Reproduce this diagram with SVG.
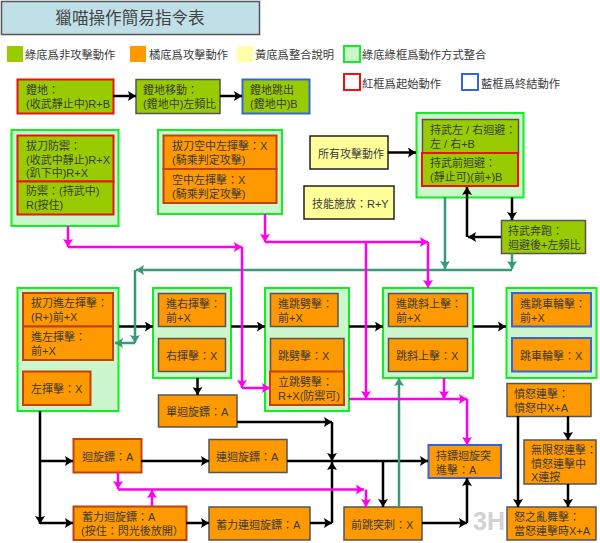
<svg xmlns="http://www.w3.org/2000/svg" width="600" height="543" viewBox="0 0 600 543">
<style>
text{font-family:"Liberation Sans","Noto Sans CJK TC",sans-serif;font-size:11px;fill:#3a3a3a}
.title{font-size:16.6px;text-anchor:middle;fill:#444}
.lg{font-size:11.3px}
.wm{font-size:25px;font-weight:700;fill:#d2d2d2}
.g{fill:#99cc00}.o{fill:#ff9900}.y{fill:#ffff99;stroke:#222;stroke-width:1.5}
.n{stroke:#555;stroke-width:1.5}.r{stroke:#ee1111;stroke-width:2}.b{stroke:#3366dd;stroke-width:2}.br{stroke:#c0430f;stroke-width:2}
.grp{fill:#ccf7cc;stroke:#11ee22;stroke-width:2}
.k,.m,.t{fill:none;stroke-linejoin:miter}
.k{stroke:#000;stroke-width:2.5;marker-end:url(#ak)}
.m{stroke:#ff00ee;stroke-width:2.5;marker-end:url(#am)}
.t{stroke:#379a7c;stroke-width:2.5;marker-end:url(#at)}
</style>
<defs>
<marker id="ak" markerUnits="userSpaceOnUse" markerWidth="9" markerHeight="10" refX="8" refY="5" orient="auto"><path d="M0 0L8 5L0 10L1.5 5Z" fill="#000"/></marker>
<marker id="am" markerUnits="userSpaceOnUse" markerWidth="9" markerHeight="10" refX="8" refY="5" orient="auto"><path d="M0 0L8 5L0 10L1.5 5Z" fill="#ff00ee"/></marker>
<marker id="at" markerUnits="userSpaceOnUse" markerWidth="9" markerHeight="10" refX="8" refY="5" orient="auto"><path d="M0 0L8 5L0 10L1.5 5Z" fill="#379a7c"/></marker>
</defs>
<rect width="600" height="543" fill="#fff"/>
<text class="wm" x="473" y="530">3H</text>
<g id="title"><rect x="1.5" y="1.5" width="258" height="33" fill="#c0e0e8" stroke="#555" stroke-width="1.5"/><text class="title" x="130" y="24">獵喵操作簡易指令表</text></g>
<g id="legend">
<rect x="7" y="46" width="16" height="16" fill="#99cc00"/><text class="lg" x="25" y="59">綠底爲非攻擊動作</text>
<rect x="130" y="46" width="16" height="16" fill="#ff9900"/><text class="lg" x="149" y="59">橘底爲攻擊動作</text>
<rect x="237" y="46" width="16" height="16" fill="#ffffa8"/><text class="lg" x="255" y="59">黃底爲整合說明</text>
<rect x="344" y="46" width="16" height="16" class="grp"/><text class="lg" x="362" y="59">綠底綠框爲動作方式整合</text>
<rect x="344" y="74" width="16" height="16" fill="#fff" stroke="#ee1111" stroke-width="2"/><text class="lg" x="362" y="88">紅框爲起始動作</text>
<rect x="462" y="74" width="16" height="16" fill="#fff" stroke="#3366dd" stroke-width="2"/><text class="lg" x="481" y="88">藍框爲終結動作</text>
</g>
<g id="n-dengdi"><rect x="17.5" y="79.5" width="96" height="34" class="g r"/><text x="26" y="94">鐙地：</text><text x="26" y="108">(收武靜止中)R+B</text></g>
<g id="n-dengdi-move"><rect x="136" y="79.5" width="84" height="34" class="g n"/><text x="143" y="94">鐙地移動：</text><text x="143" y="108">(鐙地中)左頻比</text></g>
<g id="n-dengdi-jump"><rect x="242.5" y="79.5" width="67" height="34" class="g b"/><text x="250" y="94">鐙地跳出</text><text x="250" y="108">(鐙地中)B</text></g>
<g id="g1"><rect x="11.5" y="130" width="107" height="96" class="grp"/>
<rect x="17.5" y="135.5" width="96" height="46" class="g r"/><text x="26" y="150">拔刀防禦：</text><text x="26" y="163.500">(收武中靜止)R+X</text><text x="26" y="176.500">(趴下中)R+X</text>
<rect x="17.5" y="181.500" width="96" height="33" class="g r"/><text x="26" y="195">防禦：(持武中)</text><text x="26" y="209">R(按住)</text></g>
<g id="g2"><rect x="158" y="130" width="124" height="84" class="grp"/>
<rect x="163.500" y="135.500" width="113" height="33.500" class="o br"/><text x="172" y="150">拔刀空中左揮擊：X</text><text x="172" y="164">(騎乘判定攻擊)</text>
<rect x="163.500" y="169" width="113" height="34" class="o br"/><text x="172" y="184">空中左揮擊：X</text><text x="172" y="198">(騎乘判定攻擊)</text></g>
<g id="n-all"><rect x="310" y="136" width="78" height="33" class="y"/><text x="318" y="158">所有攻擊動作</text></g>
<g id="n-skill"><rect x="304" y="186" width="90" height="33" class="y"/><text x="312" y="208">技能施放：R+Y</text></g>
<g id="g3"><rect x="416.500" y="113" width="107" height="84.500" class="grp"/>
<rect x="422.500" y="119.500" width="96" height="34" class="g n"/><text x="430" y="134">持武左 / 右迴避：</text><text x="430" y="147.500">左 / 右+B</text>
<rect x="422" y="153" width="96" height="33" class="g r"/><text x="430" y="167">持武前迴避：</text><text x="430" y="181">(靜止可)(前+)B</text></g>
<g id="n-run"><rect x="501.500" y="220.500" width="84" height="33" class="g n"/><text x="508" y="235">持武奔跑：</text><text x="508" y="249">迴避後+左頻比</text></g>
<g id="g4"><rect x="17.500" y="288" width="101" height="123" class="grp"/>
<rect x="23" y="293" width="90" height="33.500" class="o br"/><text x="31" y="307">拔刀進左揮擊：</text><text x="31" y="321">(R+)前+X</text>
<rect x="23" y="326.500" width="90" height="33.500" class="o br"/><text x="31" y="341">進左揮擊：</text><text x="31" y="355">前+X</text>
<rect x="23" y="371.500" width="67.500" height="33.500" class="o br"/><text x="31" y="393">左揮擊：X</text></g>
<g id="g5"><rect x="153" y="288" width="78" height="90" class="grp"/>
<rect x="158.500" y="293.500" width="67" height="33" class="o n"/><text x="166" y="308">進右揮擊：</text><text x="166" y="322">前+X</text>
<rect x="158.500" y="338.500" width="67" height="33" class="o n"/><text x="166" y="360">右揮擊：X</text></g>
<g id="n-single"><rect x="158.500" y="395" width="78.500" height="32" class="o n"/><text x="166" y="416">單迴旋鏢：A</text></g>
<g id="g6"><rect x="265" y="288" width="84" height="123" class="grp"/>
<rect x="270.500" y="293.500" width="67.500" height="33" class="o n"/><text x="278" y="308">進跳劈擊：</text><text x="278" y="322">前+X</text>
<rect x="270.500" y="338.500" width="73.500" height="34" class="o n"/><text x="278" y="360">跳劈擊：X</text>
<rect x="270" y="371.500" width="74" height="33.500" class="o br"/><text x="278" y="386">立跳劈擊：</text><text x="278" y="400">R+X(防禦可)</text></g>
<g id="g7"><rect x="383" y="288" width="90" height="90" class="grp"/>
<rect x="388.500" y="293.500" width="79" height="33" class="o n"/><text x="396" y="308">進跳斜上擊：</text><text x="396" y="322">前+X</text>
<rect x="388.500" y="338.500" width="79" height="33" class="o n"/><text x="396" y="360">跳斜上擊：X</text></g>
<g id="g8"><rect x="506.500" y="288" width="90" height="90" class="grp"/>
<rect x="512" y="293" width="79" height="33.500" class="o b"/><text x="520" y="308">進跳車輪擊：</text><text x="520" y="322">前+X</text>
<rect x="512" y="338" width="79" height="33.500" class="o b"/><text x="520" y="360">跳車輪擊：X</text></g>
<g id="n-rage"><rect x="507" y="383.500" width="84" height="33" class="o n"/><text x="514" y="398">憤怒連擊：</text><text x="514" y="412">憤怒中X+A</text></g>
<g id="n-inf"><rect x="524" y="440" width="72" height="44" class="o n"/><text x="531" y="454">無限怒連擊：</text><text x="531" y="467.500">憤怒連擊中</text><text x="531" y="481">X連按</text></g>
<g id="n-chaos"><rect x="507" y="507" width="89" height="33" class="o n"/><text x="514" y="521">怒之亂舞擊：</text><text x="514" y="534.500">當怒連擊時X+A</text></g>
<g id="n-hold"><rect x="428.500" y="445" width="72.500" height="33" class="o b"/><text x="436" y="460">持鏢迴旋突</text><text x="436" y="473.500">進擊：A</text></g>
<g id="n-dash"><rect x="344" y="507" width="78" height="33" class="o n"/><text x="351" y="529">前跳突刺：X</text></g>
<g id="n-boom"><rect x="73.500" y="439" width="68" height="33.500" class="o br"/><text x="82" y="461">迴旋鏢：A</text></g>
<g id="n-boom2"><rect x="209" y="439.500" width="78" height="33" class="o n"/><text x="216" y="461">連迴旋鏢：A</text></g>
<g id="n-charge"><rect x="73.500" y="506.500" width="113" height="33.500" class="o br"/><text x="82" y="521">蓄力迴旋鏢：A</text><text x="81" y="535">(按住：閃光後放開）</text></g>
<g id="n-charge2"><rect x="209" y="507" width="101" height="33" class="o n"/><text x="216" y="529">蓄力連迴旋鏢：A</text></g>
<g id="connectors">
<path class="k" d="M113 96H136"/><path class="k" d="M220 96H242"/><path class="k" d="M388 152.500H416"/>
<path class="k" d="M512 197.500V220"/><path class="k" d="M501 237H468"/><path class="k" d="M467 237V187"/>
<path class="k" d="M119 326.500H153"/><path class="k" d="M231 326.500H265"/><path class="k" d="M349 326.500H383"/><path class="k" d="M473 326.500H506"/>
<path class="k" d="M197.500 378V395"/>
<path class="k" d="M237 422H332"/><path class="k" d="M332 422V461"/>
<path class="k" d="M40 411V524"/><path class="k" d="M40 461H73"/><path class="k" d="M40 523H73"/>
<path class="k" d="M141 461H209"/><path class="k" d="M287 461H428"/><path class="k" d="M186 523H209"/>
<path class="k" d="M310 523H332"/><path class="k" d="M332 523V462"/>
<path class="k" d="M383 461V507"/>
<path class="k" d="M422 523H467"/><path class="k" d="M467 523V478"/>
<path class="k" d="M518 416V507"/><path class="k" d="M568 416V440"/><path class="k" d="M568 484V507"/>
<path class="t" d="M445 197V269"/><path class="t" d="M512 253V269"/><path class="t" d="M512 270H136"/><path class="t" d="M135 270V343"/><path class="t" d="M135 343H115"/>
<path class="t" d="M399 507V378"/>
<path class="m" d="M68 226V247"/><path class="m" d="M68 247H242"/><path class="m" d="M242 247V388"/><path class="m" d="M242 388H270"/>
<path class="m" d="M265 214V242"/><path class="m" d="M265 242H428"/><path class="m" d="M428 242V288"/><path class="m" d="M366 242V399"/>
<path class="m" d="M349 399H467"/><path class="m" d="M467 399V445"/><path class="m" d="M444 378V399"/>
<path class="m" d="M118 473V489"/><path class="m" d="M118 489.500H364"/><path class="m" d="M366 489.500V507"/><path class="m" d="M152 506V490"/>
</g>
</svg>
